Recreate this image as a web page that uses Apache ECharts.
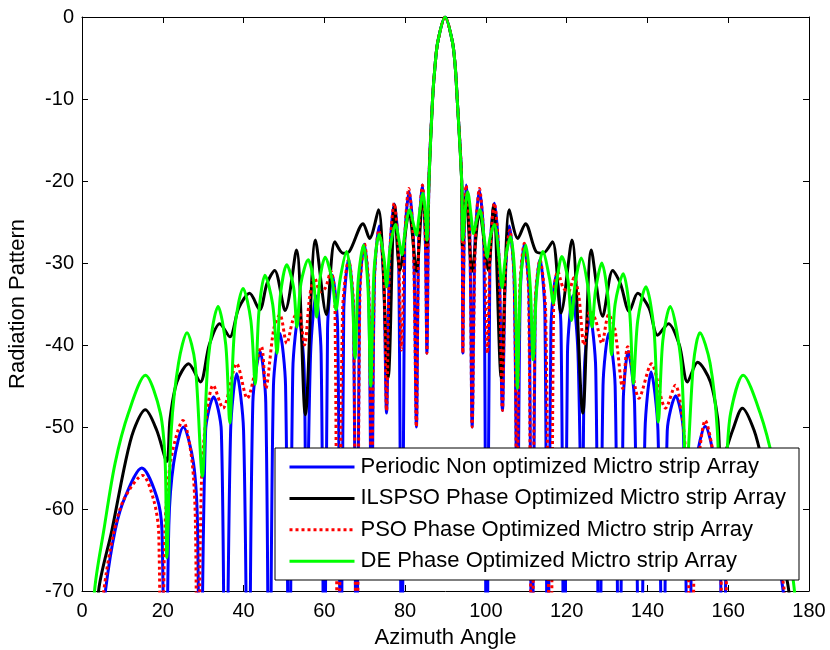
<!DOCTYPE html>
<html><head><meta charset="utf-8">
<script src="https://cdn.jsdelivr.net/npm/echarts@6/dist/echarts.min.js"></script>
<style>html,body{margin:0;padding:0;background:#fff}#c{width:830px;height:650px}</style>
</head><body><div id="c"></div>
<script>
// ---- data ----
const seriesNames = [
  'Periodic Non optimized Mictro strip Array',
  'ILSPSO Phase Optimized Mictro strip Array',
  'PSO Phase Optimized Mictro strip Array',
  'DE Phase Optimized Mictro strip Array'
];
const xTicks = [0, 20, 40, 60, 80, 100, 120, 140, 160, 180];
const yTicks = [-70, -60, -50, -40, -30, -20, -10, 0];

// [azimuth angle, dB]
const periodic = [
  [0,-95],[5.8,-70],[8.2,-62.6],[10.7,-58.5],[14.8,-55],[18.5,-58.5],[19.8,-62.6],[20.6,-95],
  [21.5,-62],[22.7,-54.4],[25.1,-50],[27.6,-54.4],[28.6,-62],[29.2,-95],
  [30.6,-50.5],[32.6,-46.3],[34.5,-50.5],[35.5,-95],
  [36.8,-50.4],[38.3,-43.5],[40,-50.4],[41.2,-95],
  [42.3,-47],[44.1,-40.8],[45.5,-47],[46.4,-95],
  [47.4,-45],[49,-38.6],[50.4,-45],[51.3,-95],
  [52.2,-43],[53.6,-36.5],[55,-43],[55.5,-68],
  [56.6,-41],[57.9,-34],[59.2,-41],[60,-95],
  [60.8,-38],[62,-31.5],[63.3,-38],[64.1,-95],
  [64.8,-36],[66,-29.5],[67.2,-36],[68,-95],
  [68.7,-34],[69.9,-27.7],[71,-34],[71.7,-67.8],
  [72.4,-32],[73.6,-25.5],[74.7,-32],[75.4,-48.3],
  [76.2,-29],[77.3,-22.8],[78.4,-29],[79.2,-95],
  [79.9,-27.5],[81,-21.3],[82.1,-27.5],[82.8,-50],
  [83.4,-26.5],[84.3,-20.5],[85,-27],[85.4,-41],
  [85.9,-20],[86.8,-10],[87.4,-6],[88.1,-3],[89.9,0],[91.7,-3],[92.4,-6],[92.9,-10],[94,-20],
  [94.3,-41],[94.6,-27],[95.1,-20.5],[96,-26.5],[96.6,-50],
  [97.3,-27.5],[98.4,-21.2],[99.5,-27.5],[100.2,-95],
  [101,-29],[102.1,-22.7],[103.2,-29],[104.1,-48],
  [104.8,-32],[105.8,-25.5],[107,-32],[107.8,-67.8],
  [108.5,-34],[109.5,-27.7],[110.7,-34],[111.4,-95],
  [112.2,-36],[113.4,-29.5],[114.6,-36],[115.3,-95],
  [116.1,-38],[117.4,-31.5],[118.6,-38],[119.4,-95],
  [120.2,-41],[121.5,-34],[122.8,-41],[123.9,-68],
  [124.4,-43],[125.8,-36.5],[127.2,-43],[128.1,-95],
  [129,-45],[130.4,-38.6],[132,-45],[133,-95],
  [134,-47],[135.2,-40.8],[136.8,-47],[138.2,-95],
  [139.4,-50.4],[140.9,-43.3],[142.6,-50.4],[144,-95],
  [144.9,-50.5],[147,-46.2],[148.9,-50.5],[150.2,-95],
  [151,-62],[152,-54.4],[154.3,-49.9],[156.7,-54.4],[157.9,-62],[158.8,-95],
  [159.6,-62.6],[160.9,-58.5],[164.6,-55],[168.7,-58.5],[171.2,-62.6],[173.6,-70],[180,-95]
];

const ilspso = [
  [0,-95],[4.1,-70],[7.4,-62.6],[10.7,-54.4],[12.8,-50.4],[15.7,-47.9],[18.5,-50.4],[21,-54.2],
  [21.8,-49],[23.5,-44.5],[26.4,-42.3],[29.3,-44.5],[31.5,-40],[34.1,-37.4],[36.6,-39],[38.8,-35.5],
  [41.5,-33.7],[44,-35.7],[45.8,-32.5],[47.7,-30.9],[50.3,-35.8],[53.1,-28.4],[55.3,-48.5],[57.8,-27.2],
  [60.5,-36.3],[62.6,-27.4],[64.6,-28.8],[66.2,-28.6],[69.6,-25.2],[71.2,-27],[73.4,-23.5],[75.8,-44],
  [77.4,-22.9],[78.7,-30.9],[81,-23.8],[82.8,-31],[84.4,-21.8],[85.4,-28],
  [85.9,-20],[86.8,-10],[87.4,-6],[88.1,-3],[89.9,0],[91.7,-3],[92.4,-6],[92.9,-10],[94,-20],
  [94.2,-28],[95.1,-21.8],[96.6,-31],[98.4,-23.8],[100.6,-30.9],[101.9,-22.9],[103.8,-44],[105.8,-23.5],
  [107.9,-27],[109.8,-25.2],[112.4,-28.6],[114.2,-28.8],[116.5,-27.4],[118.6,-36.1],[121.3,-27.2],[124,-48.3],
  [126.1,-28.4],[128.9,-36.5],[131.4,-30.9],[133.3,-32.5],[135.5,-35.9],[137.6,-33.7],[140.4,-35.5],[142.5,-38.8],
  [145.2,-37.4],[147.9,-40],[149.9,-44.5],[152.4,-42.1],[155.6,-44.5],[157.4,-49],[158.3,-54.2],[161.1,-50.4],
  [163.5,-47.7],[166.4,-50.4],[168.5,-54.4],[171.8,-62.6],[175,-70],[180,-95]
];

const pso = [
  [0,-95],[5.4,-70],[7.8,-63],[10.4,-58.8],[15,-55.9],[17.8,-59],[19,-63],[19.7,-95],
  [20.5,-63],[22,-54],[25,-49.2],[27.2,-54],[28.1,-62],[28.6,-95],
  [29.5,-58],[30.6,-49.5],[32.5,-44.9],[34.9,-47.7],[38.3,-42.3],[40.9,-46.5],[44.4,-40.2],[45.5,-45.3],
  [47.5,-38],[49,-36.3],[50.7,-39.8],[52.2,-37],[53.6,-35.8],[55.1,-40],[56.4,-34],[57.6,-31.8],
  [59,-33.5],[60.3,-33],[61.6,-31],[62.6,-34],[63.4,-95],
  [64.5,-36],[66,-29.6],[67.2,-35],[68,-95],
  [68.8,-34],[69.9,-27.6],[71,-33],[71.7,-60],
  [72.4,-32],[73.5,-26],[74.7,-31],[75.4,-48],
  [76.2,-29],[77.3,-22.7],[78.3,-28],[79.1,-40.6],
  [79.9,-27],[80.9,-20.9],[82,-27],[82.8,-50],
  [83.4,-26.5],[84.3,-20.5],[85,-27],[85.4,-41],
  [85.9,-20],[86.8,-10],[87.4,-6],[88.1,-3],[89.9,0],[91.7,-3],[92.4,-6],[92.9,-10],[94,-20],
  [94.3,-41],[94.6,-27],[95.1,-20.5],[96,-26.5],[96.6,-50],
  [97.4,-27],[98.4,-20.9],[99.5,-27],[100.4,-41],
  [101.1,-28],[102.1,-22.7],[103.2,-29],[104.1,-48],
  [104.8,-31],[105.9,-26],[107,-32],[107.7,-60],
  [108.4,-33],[109.5,-27.6],[110.6,-34],[111.4,-95],
  [112.2,-35],[113.4,-29.6],[114.8,-36],[116,-95],
  [116.8,-34],[117.8,-31],[119.1,-33],[120.4,-33.5],[121.8,-31.8],[123,-34],[124.3,-40],[125.8,-35.8],
  [127.2,-37],[128.7,-39.8],[130.4,-36.3],[131.9,-38],[133.9,-45.3],[135.1,-40.2],[137.9,-46.5],[141,-42.3],
  [144.5,-47.7],[146.9,-44.9],[148.8,-49.5],[149.9,-58],[150.8,-95],
  [151.7,-62],[152.7,-54],[154.3,-49.2],[156.5,-54],[158,-63],[158.9,-95],
  [159.8,-63],[161,-59],[163.8,-55.9],[168.8,-58.8],[171.4,-63],[173.9,-70],[180,-95]
];

const de = [
  [0,-95],[3.1,-70],[5.4,-62.6],[8.2,-54.4],[11.5,-48.3],[15.7,-43.7],[19.4,-48.3],[20.6,-54.4],[21,-65.9],
  [22.1,-50.4],[23.9,-42.2],[26,-38.5],[28,-42.2],[29.8,-56],[31.2,-42],[33.7,-35.3],[35.6,-40],[36.6,-49.5],
  [37.8,-38],[39.9,-33.1],[41.8,-37],[42.9,-44.8],[43.8,-36],[45.3,-31.5],[47.2,-35],[48.3,-41],
  [49.1,-34],[50.7,-30.2],[52.4,-33],[53.2,-37.8],[54.2,-32.5],[56,-29.6],[57.3,-32],[58.1,-36.6],
  [58.9,-32],[60.2,-29.3],[61.9,-32],[62.9,-35.7],[63.9,-32],[65.5,-28.6],[66.8,-33],[67.6,-41.6],
  [68.4,-32],[69.7,-27.8],[70.8,-33],[71.5,-45],[72.3,-31],[73.6,-26.5],[74.8,-29.5],[75.4,-32.9],
  [76.2,-28.5],[77.6,-25.3],[78.6,-27.5],[79.2,-29],[79.9,-26.5],[81.1,-23.5],[82.2,-25.5],[82.8,-26.6],
  [83.4,-24.5],[84.4,-21.5],[85.1,-24.5],[85.4,-27.2],
  [85.9,-20],[86.8,-10],[87.4,-6],[88.1,-3],[89.9,0],[91.7,-3],[92.4,-6],[92.9,-10],[94,-20],
  [94.3,-27.2],[94.7,-24.5],[95.5,-21.3],[96.4,-24.5],[96.9,-26.4],[97.6,-25],[98.5,-23.5],[99.6,-27],
  [100.3,-29.3],[101,-27],[102.1,-25.3],[103.3,-29.5],[104,-33],[104.8,-29.5],[106.1,-26.8],[107.2,-32],
  [107.8,-45.3],[108.6,-32],[109.9,-27.8],[111,-33],[111.7,-41.8],[112.6,-33],[114.1,-28.6],[115.8,-32],
  [116.7,-34.9],[117.6,-32],[118.8,-29.2],[120.3,-32],[121.2,-37],[122.1,-32.5],[123.6,-29.4],[125.3,-33],
  [126.3,-37.8],[127.1,-33.5],[128.7,-30],[130.3,-34.5],[131.1,-41.2],[132,-35],[134,-31.3],[135.6,-36],
  [136.5,-44.7],[137.6,-37],[139.6,-32.9],[141.6,-38],[142.7,-49.4],[143.8,-39.5],[145.6,-35.3],[148.3,-42],
  [149.6,-56],[151.4,-42.2],[153,-38.5],[155.5,-42.2],[157.3,-50.4],[158.4,-65.9],[159.6,-54.4],[160.6,-48.3],
  [163.7,-43.7],[167.9,-48.3],[171.2,-54.4],[174.1,-62.6],[176.4,-70],[180,-95]
];

// ---- chart ----
const FONT = '"Liberation Sans", Arial, Helvetica, sans-serif';
const chart = echarts.init(document.getElementById('c'), null, {renderer: 'canvas'});
const axisLineStyle = {show: true, onZero: false, lineStyle: {color: '#000', width: 1}};
const tickStyle = {show: true, inside: true, length: 6, lineStyle: {color: '#000', width: 1}};

const option = {
  animation: false,
  backgroundColor: '#fff',
  grid: {left: 82, right: 21, top: 17, bottom: 59, containLabel: false, outerBoundsMode: 'none'},
  xAxis: [
    {type: 'value', min: xTicks[0], max: xTicks[xTicks.length - 1], interval: xTicks[1] - xTicks[0],
     position: 'bottom', axisLine: axisLineStyle, axisTick: tickStyle, splitLine: {show: false},
     axisLabel: {color: '#000', fontSize: 20, fontFamily: FONT, margin: 10},
     name: 'Azimuth Angle', nameLocation: 'middle', nameGap: 36,
     nameTextStyle: {color: '#000', fontSize: 22, fontFamily: FONT}},
    {type: 'value', min: xTicks[0], max: xTicks[xTicks.length - 1], interval: xTicks[1] - xTicks[0],
     position: 'top', axisLine: axisLineStyle, axisTick: tickStyle, splitLine: {show: false},
     axisLabel: {show: false}}
  ],
  yAxis: [
    {type: 'value', min: yTicks[0], max: yTicks[yTicks.length - 1], interval: yTicks[1] - yTicks[0],
     position: 'left', axisLine: axisLineStyle, axisTick: tickStyle, splitLine: {show: false},
     axisLabel: {color: '#000', fontSize: 20, fontFamily: FONT, margin: 8},
     name: 'Radiation Pattern', nameLocation: 'middle', nameGap: 53,
     nameTextStyle: {color: '#000', fontSize: 22, fontFamily: FONT}},
    {type: 'value', min: yTicks[0], max: yTicks[yTicks.length - 1], interval: yTicks[1] - yTicks[0],
     position: 'right', axisLine: axisLineStyle, axisTick: tickStyle, splitLine: {show: false},
     axisLabel: {show: false}}
  ],
  graphic: [{
    type: 'rect', z: 10, zlevel: 0,
    shape: {x: 275, y: 448, width: 524, height: 132},
    style: {fill: '#fff', stroke: '#000', lineWidth: 1}
  }],
  legend: {
    z: 20, orient: 'vertical', left: 288, top: 456, padding: 0,
    itemWidth: 65, itemHeight: 20, itemGap: 9.4,
    itemStyle: {opacity: 0},
    lineStyle: {width: 3},
    textStyle: {color: '#000', fontSize: 22, fontFamily: FONT, padding: [0, 0, 0, 1]},
    data: seriesNames
  },
  series: [
    {name: seriesNames[0], type: 'line', data: periodic, symbol: 'none', smooth: 0.3,
     lineStyle: {color: '#0000ff', width: 3}, itemStyle: {color: '#0000ff'}, z: 2},
    {name: seriesNames[1], type: 'line', data: ilspso, symbol: 'none', smooth: 0.3,
     lineStyle: {color: '#000000', width: 3}, itemStyle: {color: '#000000'}, z: 3},
    {name: seriesNames[2], type: 'line', data: pso, symbol: 'none', smooth: 0.3,
     lineStyle: {color: '#ff0000', width: 3, type: [3, 3]}, itemStyle: {color: '#ff0000'}, z: 4},
    {name: seriesNames[3], type: 'line', data: de, symbol: 'none', smooth: 0.3,
     lineStyle: {color: '#00ff00', width: 3}, itemStyle: {color: '#00ff00'}, z: 5}
  ]
};
chart.setOption(option);
</script>
</body></html>
